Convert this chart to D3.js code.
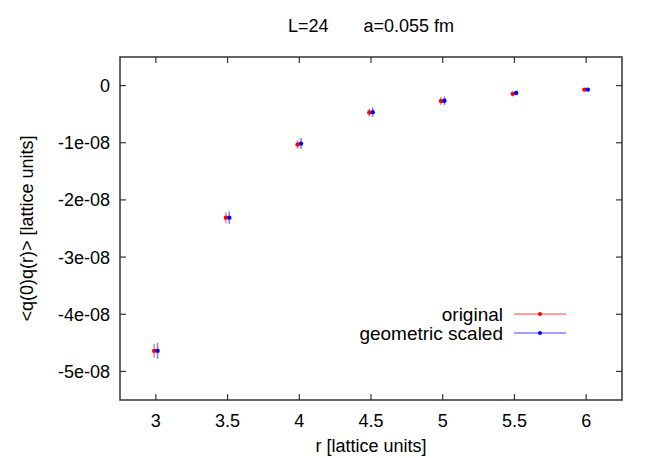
<!DOCTYPE html>
<html><head><meta charset="utf-8">
<script src="https://cdn.jsdelivr.net/npm/d3@7/dist/d3.min.js"></script>
<style>body{margin:0;background:#fff}svg{display:block}text{font-family:"Liberation Sans",Arial,sans-serif;fill:#000}</style>
</head><body>
<svg id="c" width="654" height="458"></svg>
<script>
const radii = [3, 3.5, 4, 4.5, 5, 5.5, 6];
const xTicks = [3, 3.5, 4, 4.5, 5, 5.5, 6];
const yTicks = [0, -1e-8, -2e-8, -3e-8, -4e-8, -5e-8];
const yTickLabels = ["0", "-1e-08", "-2e-08", "-3e-08", "-4e-08", "-5e-08"];
const originalX = [2.988, 3.488, 3.988, 4.488, 4.988, 5.488, 5.988];
const originalY = [-4.64e-8, -2.31e-8, -1.03e-8, -0.47e-8, -0.27e-8, -0.145e-8, -0.07e-8];
const originalErr = [0.12e-8, 0.093e-8, 0.075e-8, 0.073e-8, 0.064e-8, 0.047e-8, 0.025e-8];
const scaledX = [3.012, 3.512, 4.012, 4.512, 5.012, 5.512, 6.012];
const scaledY = [-4.64e-8, -2.31e-8, -1.015e-8, -0.465e-8, -0.265e-8, -0.128e-8, -0.07e-8];
const scaledErr = [0.14e-8, 0.11e-8, 0.096e-8, 0.087e-8, 0.076e-8, 0.038e-8, 0.025e-8];

const svg = d3.select("#c");
const L = 120, R = 622, T = 57, B = 400;
const x = d3.scaleLinear().domain([2.75, 6.25]).range([L, R]);
const y = d3.scaleLinear().domain([-5.5e-8, 0.5e-8]).range([B, T]);
const frameColor = "#333";
const fs = 18;

// ticks (inward, mirrored)
const tl = 6;
const g = svg.append("g");
xTicks.forEach(v => {
  g.append("line").attr("x1", x(v)).attr("x2", x(v)).attr("y1", B).attr("y2", B - tl).attr("stroke", frameColor).attr("stroke-width", 1.2);
  g.append("line").attr("x1", x(v)).attr("x2", x(v)).attr("y1", T).attr("y2", T + tl).attr("stroke", frameColor).attr("stroke-width", 1.2);
  g.append("text").attr("x", x(v)).attr("y", B + 27).attr("text-anchor", "middle").attr("font-size", fs).text(String(v));
});
yTicks.forEach((v, i) => {
  g.append("line").attr("x1", L).attr("x2", L + tl).attr("y1", y(v)).attr("y2", y(v)).attr("stroke", frameColor).attr("stroke-width", 1.2);
  g.append("line").attr("x1", R).attr("x2", R - tl).attr("y1", y(v)).attr("y2", y(v)).attr("stroke", frameColor).attr("stroke-width", 1.2);
  g.append("text").attr("x", L - 10).attr("y", y(v) + 6.5).attr("text-anchor", "end").attr("font-size", fs).text(yTickLabels[i]);
});
svg.append("rect").attr("x", L).attr("y", T).attr("width", R - L).attr("height", B - T)
  .attr("fill", "none").attr("stroke", frameColor).attr("stroke-width", 1.5);

// series
function drawSeries(xs, ys, es, color) {
  const s = svg.append("g");
  xs.forEach((xv, i) => {
    s.append("line").attr("x1", x(xv)).attr("x2", x(xv))
      .attr("y1", y(ys[i] - es[i])).attr("y2", y(ys[i] + es[i]))
      .attr("stroke", color).attr("stroke-opacity", 0.5).attr("stroke-width", 1.5);
    s.append("circle").attr("cx", x(xv)).attr("cy", y(ys[i])).attr("r", 2.2).attr("fill", color);
  });
}
drawSeries(originalX, originalY, originalErr, "#ff0000");
drawSeries(scaledX, scaledY, scaledErr, "#0000ff");

// legend
const legend = [["original", "#ff0000"], ["geometric scaled", "#0000ff"]];
legend.forEach((d, i) => {
  const ly = 314 + i * 19;
  svg.append("text").attr("x", 503).attr("y", ly + 7).attr("text-anchor", "end").attr("font-size", 19).text(d[0]);
  svg.append("line").attr("x1", 514).attr("x2", 566).attr("y1", ly).attr("y2", ly)
    .attr("stroke", d[1]).attr("stroke-opacity", 0.5).attr("stroke-width", 1.5);
  svg.append("circle").attr("cx", 540).attr("cy", ly).attr("r", 2).attr("fill", d[1]);
});

// title and axis labels
svg.append("text").attr("x", 371).attr("y", 32).attr("text-anchor", "middle").attr("font-size", fs)
  .style("white-space", "pre").text("L=24       a=0.055 fm");
svg.append("text").attr("x", 371).attr("y", 452).attr("text-anchor", "middle").attr("font-size", fs).text("r [lattice units]");
svg.append("text").attr("transform", `translate(33,${(T + B) / 2}) rotate(-90)`).attr("text-anchor", "middle")
  .attr("font-size", fs).text("<q(0)q(r)> [lattice units]");
</script>
</body></html>
